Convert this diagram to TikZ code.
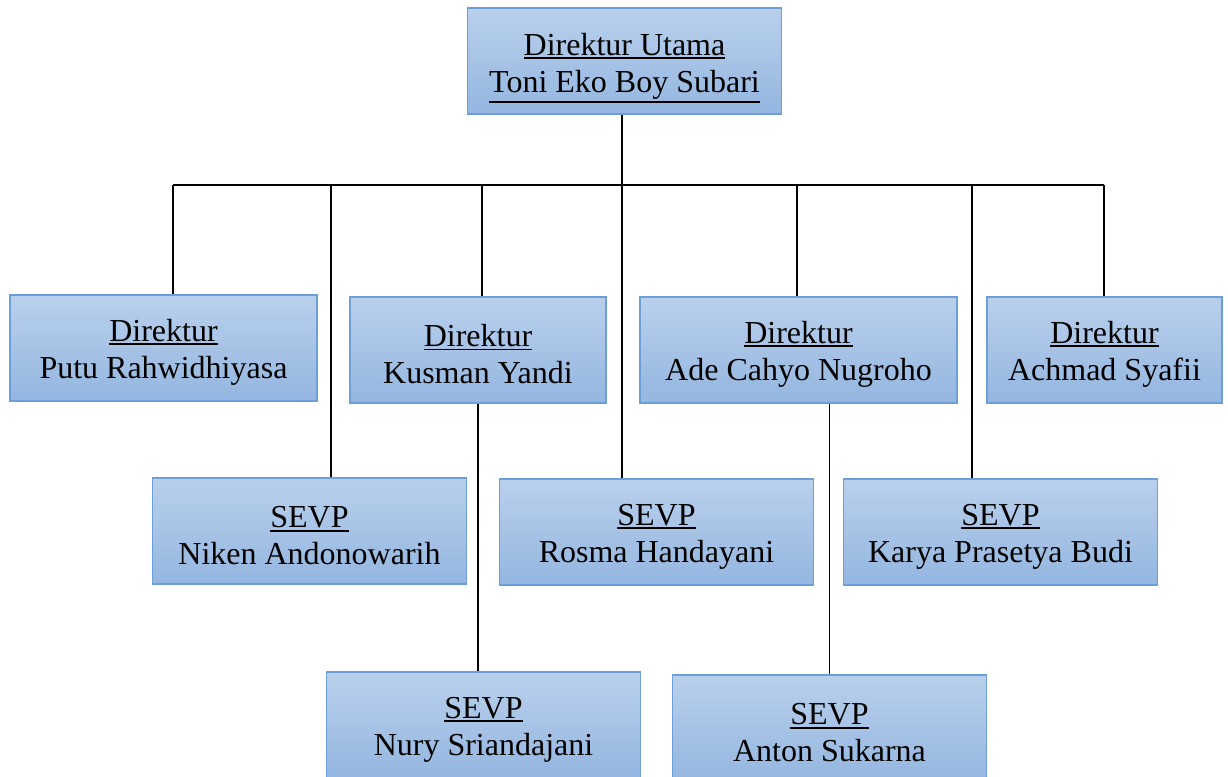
\documentclass[tikz,border=0pt]{standalone}
\usepackage{fontspec}
\setmainfont{Liberation Serif}
\usepackage{tikz}
\usetikzlibrary{positioning}
\definecolor{boxtop}{HTML}{B9D0EC}
\definecolor{boxbot}{HTML}{94B6E0}
\definecolor{boxline}{HTML}{6C9ED7}
\newcommand{\garisbawah}[1]{\setbox0\hbox{#1}\rlap{\rule[\dimexpr-\dp0-1.6pt\relax]{\wd0}{0.9pt}}\box0}
\newcommand{\jab}[3][15.5pt]{\rule{0pt}{#1}\garisbawah{#2}\\#3}
\tikzstyle{jabatan} = [rectangle, sharp corners, draw=boxline, line width=0.75pt,
                     align=center, top color=boxtop, bottom color=boxbot,
                     font=\fontsize{16}{18.5}\selectfont,
                     minimum width=157pt, minimum height=53pt, inner sep=0pt]
\tikzstyle{garis} = [draw=black, line width=0.6pt]
\begin{document}
\begin{tikzpicture}[x=0.5pt,y=-0.5pt]
\useasboundingbox (0,0) rectangle (1228,777);
%Direktur Utama
\node [jabatan] at (624.5,61) (utama){\jab[18pt]{Direktur Utama}{\garisbawah{Toni Eko Boy Subari}}};

%Direktur
\node [jabatan, minimum width=153.5pt] at (163.5,348) (putu){\jab{Direktur}{Putu Rahwidhiyasa}};
\node [jabatan, minimum width=128pt] at (478,350) (kusman){\jab{Direktur}{Kusman Yandi}};
\node [jabatan, minimum width=158.5pt] at (798.5,350) (ade){\jab{Direktur}{Ade Cahyo Nugroho}};
\node [jabatan, minimum width=117.5pt] at (1104.5,350) (achmad){\jab{Direktur}{Achmad Syafii}};

%SEVP
\node [jabatan] at (309.5,531) (niken){\jab{SEVP}{Niken Andonowarih}};
\node [jabatan] at (656.5,532) (rosma){\jab{SEVP}{Rosma Handayani}};
\node [jabatan] at (1000.5,532) (karya){\jab{SEVP}{Karya Prasetya Budi}};
\node [jabatan] at (483.5,725) (nury){\jab{SEVP}{Nury Sriandajani}};
\node [jabatan] at (829.5,728) (anton){\jab{SEVP}{Anton Sukarna}};

%Garis
\coordinate (b1) at (173,185);
\coordinate (b2) at (331,185);
\coordinate (b3) at (482,185);
\coordinate (b4) at (622,185);
\coordinate (b5) at (797,185);
\coordinate (b6) at (972,185);
\coordinate (b7) at (1104,185);
\draw [garis] (b1) -- (b7);
\draw [garis] (b4 |- utama.south) -- (b4 |- rosma.north);
\draw [garis] (b1) -- (b1 |- putu.north);
\draw [garis] (b2) -- (b2 |- niken.north);
\draw [garis] (b3) -- (b3 |- kusman.north);
\draw [garis] (b5) -- (b5 |- ade.north);
\draw [garis] (b6) -- (b6 |- karya.north);
\draw [garis] (b7) -- (b7 |- achmad.north);
\draw [garis] (kusman.south) -- (kusman.south |- nury.north);
\draw [garis] (anton.north |- ade.south) -- (anton.north);
\end{tikzpicture}
\end{document}
